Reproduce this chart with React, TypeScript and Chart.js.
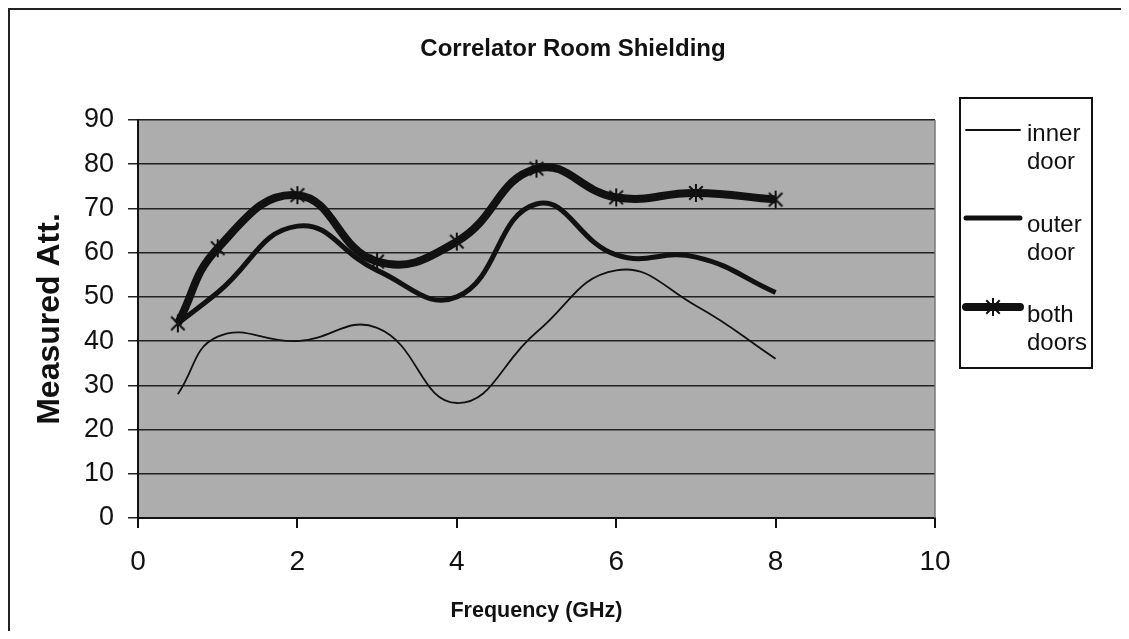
import React, { useEffect, useRef } from "react";
import { Chart, registerables } from "chart.js";

Chart.register(...registerables);

const chartTitle = "Correlator Room Shielding";
const xAxisTitle = "Frequency (GHz)";
const yAxisTitle = "Measured Att.";
const frequencies = [0.5, 1, 2, 3, 4, 5, 6, 7, 8];
const innerDoor = [28, 41, 40, 43, 26, 42, 56, 48, 36];
const outerDoor = [44, 51, 66, 56, 50, 71, 59.5, 59, 51];
const bothDoors = [44, 61, 73, 58, 62.5, 79, 72.5, 73.5, 72];
const legendLabels = [
  ["inner", "door"],
  ["outer", "door"],
  ["both", "doors"],
];
const xMin = 0;
const xMax = 10;
const xStep = 2;
const yMin = 0;
const yMax = 90;
const yStep = 10;

const FONT = "'Liberation Sans', Arial, Helvetica, sans-serif";

function makeAsterisk(size: number, lw: number): HTMLCanvasElement {
  const c = document.createElement("canvas");
  c.width = size;
  c.height = size;
  const ctx = c.getContext("2d")!;
  ctx.strokeStyle = "#111";
  ctx.lineWidth = lw;
  const m = size / 2;
  const r = size / 2 - 1;
  const d = r * 0.75;
  ctx.beginPath();
  ctx.moveTo(m - d, m - d);
  ctx.lineTo(m + d, m + d);
  ctx.moveTo(m + d, m - d);
  ctx.lineTo(m - d, m + d);
  ctx.moveTo(m, m - r);
  ctx.lineTo(m, m + r);
  ctx.stroke();
  return c;
}

export default function App() {
  const ref = useRef<HTMLCanvasElement>(null);

  useEffect(() => {
    const canvas = ref.current!;
    const star = makeAsterisk(20, 2);
    const toPts = (ys: number[]) => frequencies.map((x, i) => ({ x, y: ys[i] }));

    const decor = {
      id: "decor",
      beforeDraw(chart: any) {
        const { ctx, chartArea: a } = chart;
        ctx.save();
        ctx.fillStyle = "#adadad";
        ctx.fillRect(a.left, a.top, a.right - a.left, a.bottom - a.top);
        ctx.restore();
      },
      afterDraw(chart: any) {
        const { ctx, chartArea: a } = chart;
        ctx.save();
        ctx.strokeStyle = "#777";
        ctx.lineWidth = 1.5;
        ctx.beginPath();
        ctx.moveTo(a.right, a.top);
        ctx.lineTo(a.right, a.bottom);
        ctx.stroke();
        // title
        ctx.fillStyle = "#111";
        ctx.font = `bold 24px ${FONT}`;
        ctx.textAlign = "center";
        ctx.textBaseline = "middle";
        ctx.fillText(chartTitle, 563, 39);
        // legend
        const bx = 950, by = 88, bw = 132, bh = 270;
        ctx.strokeStyle = "#111";
        ctx.lineWidth = 2;
        ctx.strokeRect(bx, by, bw, bh);
        const rows = [120, 208, 297];
        const textRows = [
          [124, 152],
          [215, 243],
          [305, 333],
        ];
        chart.data.datasets.forEach((ds: any, i: number) => {
          ctx.strokeStyle = ds.borderColor;
          ctx.lineWidth = ds.borderWidth;
          ctx.lineCap = "round";
          ctx.beginPath();
          ctx.moveTo(956, rows[i]);
          ctx.lineTo(1010, rows[i]);
          ctx.stroke();
          if (ds.pointRadius > 0) {
            ctx.drawImage(star, 983 - star.width / 2, rows[i] - star.height / 2);
          }
          ctx.fillStyle = "#111";
          ctx.font = `24px ${FONT}`;
          ctx.textAlign = "left";
          ctx.textBaseline = "middle";
          legendLabels[i].forEach((t, j) => ctx.fillText(t, 1017, textRows[i][j]));
        });
        ctx.restore();
      },
    };

    const chart = new Chart(canvas, {
      type: "line",
      data: {
        datasets: [
          {
            label: legendLabels[0].join(" "),
            data: toPts(innerDoor),
            borderColor: "#111",
            borderWidth: 1.8,
            pointRadius: 0,
            tension: 0.45,
            fill: false,
          },
          {
            label: legendLabels[1].join(" "),
            data: toPts(outerDoor),
            borderColor: "#111",
            borderWidth: 5,
            pointRadius: 0,
            tension: 0.45,
            fill: false,
          },
          {
            label: legendLabels[2].join(" "),
            data: toPts(bothDoors),
            borderColor: "#111",
            borderWidth: 8,
            pointRadius: 10,
            pointStyle: star as any,
            tension: 0.45,
            fill: false,
          },
        ],
      },
      options: {
        responsive: false,
        animation: false,
        devicePixelRatio: 1,
        layout: { padding: { left: 0, top: 110, right: 186, bottom: 0 } },
        plugins: {
          legend: { display: false },
          title: { display: false },
          tooltip: { enabled: false },
        },
        scales: {
          x: {
            type: "linear",
            min: xMin,
            max: xMax,
            ticks: {
              stepSize: xStep,
              color: "#111",
              font: { size: 28, family: FONT },
              padding: 17,
              maxRotation: 0,
            },
            grid: {
              drawOnChartArea: false,
              drawTicks: true,
              tickLength: 10,
              color: "#111",
              lineWidth: 2,
            },
            border: { color: "#111", width: 2 },
            title: {
              display: true,
              text: xAxisTitle,
              color: "#111",
              font: { size: 21.5, weight: "bold", family: FONT },
              padding: { top: 0, bottom: 7 },
            },
            afterFit: (s: any) => {
              s.height = 113;
            },
          },
          y: {
            type: "linear",
            min: yMin,
            max: yMax,
            ticks: {
              stepSize: yStep,
              color: "#111",
              font: { size: 27, family: FONT },
              padding: 14,
            },
            grid: {
              color: "#222",
              lineWidth: 1.5,
              tickLength: 10,
              drawTicks: true,
            },
            border: { color: "#111", width: 2 },
            title: {
              display: true,
              text: yAxisTitle,
              color: "#111",
              font: { size: 32, weight: "bold", family: FONT },
              padding: { top: 21, bottom: 0 },
            },
            afterFit: (s: any) => {
              s.width = 128;
            },
          },
        },
      },
      plugins: [decor],
    } as any);

    return () => chart.destroy();
  }, []);

  return (
    <div
      style={{
        width: 1111,
        height: 621,
        borderLeft: "2px solid #222",
        borderTop: "2px solid #222",
        background: "#fff",
      }}
    >
      <canvas
        ref={ref}
        width={1111}
        height={621}
        style={{ display: "block", width: 1111, height: 621 }}
      />
    </div>
  );
}
